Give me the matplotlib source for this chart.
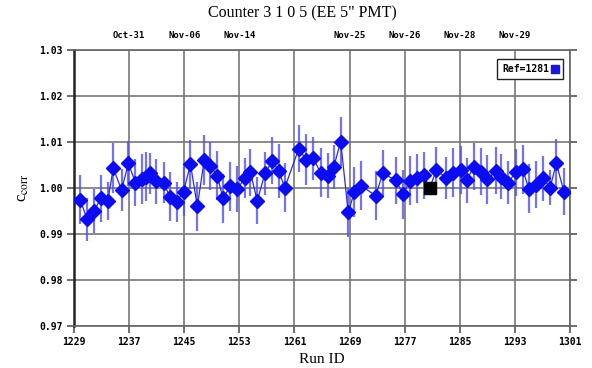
import numpy as np
import matplotlib
matplotlib.use('Agg')
import matplotlib.pyplot as plt
from matplotlib.lines import Line2D

plt.rcParams['mathtext.fontset'] = 'stix'

# run numbers (x) and corrected values
run_id = [1229.9, 1230.9, 1231.9, 1232.9, 1233.9, 1234.7, 1235.9, 1236.9, 1237.9, 1238.8,
          1239.5, 1240.0, 1240.9, 1242.0, 1242.9, 1243.9, 1244.9, 1245.9, 1246.9, 1247.9,
          1248.8, 1249.8, 1250.6, 1251.7, 1252.7, 1253.8, 1254.6, 1255.6, 1256.7, 1257.8,
          1258.7, 1259.6, 1261.6, 1262.7, 1263.7, 1264.8, 1265.8, 1266.7, 1267.7, 1268.8,
          1269.7, 1270.7, 1272.8, 1273.8, 1275.7, 1276.8, 1277.7, 1278.8, 1279.8, 1280.6,
          1281.6, 1283.0, 1284.0, 1285.1, 1286.0, 1287.0, 1288.0, 1289.0, 1290.2, 1291.0,
          1292.0, 1293.1, 1294.1, 1295.0, 1296.0, 1297.1, 1298.1, 1299.0, 1300.1]
c_corr = [0.9975, 0.9932, 0.9950, 0.9978, 0.9972, 1.0043, 0.9996, 1.0054, 1.0012, 1.0019,
          1.0025, 1.0032, 1.0015, 1.0012, 0.9981, 0.9970, 0.9992, 1.0052, 0.9960, 1.0061,
          1.0048, 1.0027, 0.9978, 1.0004, 0.9998, 1.0022, 1.0034, 0.9972, 1.0032, 1.0059,
          1.0037, 1.0001, 1.0085, 1.0062, 1.0065, 1.0033, 1.0027, 1.0046, 1.0101, 0.9947,
          0.9992, 1.0005, 0.9983, 1.0032, 1.0017, 0.9986, 1.0016, 1.0021, 1.0028, 1.0000,
          1.0039, 1.0022, 1.0033, 1.0039, 1.0017, 1.0046, 1.0035, 1.0019, 1.0038, 1.0025,
          1.0012, 1.0034, 1.0041, 0.9999, 1.0007, 1.0021, 1.0001, 1.0054, 0.9992]
err = [5.4, 4.7, 4.7, 5.1, 4.2, 5.4, 4.5, 4.9, 5.1, 5.4,
       5.3, 4.5, 4.9, 4.5, 5.3, 4.3, 5.3, 5.3, 5.4, 5.4,
       5.3, 5.3, 5.3, 5.3, 5.0, 4.3, 5.1, 5.1, 4.7, 5.1,
       5.8, 5.3, 5.1, 5.6, 4.7, 5.3, 4.9, 4.7, 5.4, 5.4,
       5.4, 5.3, 5.3, 5.1, 5.1, 5.4, 5.3, 5.3, 5.1, 0.0,
       5.1, 4.5, 5.3, 5.3, 4.9, 5.1, 5.1, 5.3, 5.1, 4.9,
       4.7, 5.1, 5.3, 5.3, 5.1, 4.9, 3.8, 5.3, 5.1]
ref_run = 1280.6
ref_val = 1.0000

date_runs = [1237, 1245, 1253, 1269, 1277, 1285, 1293]
date_labels = ['Oct-31', 'Nov-06', 'Nov-14', 'Nov-25', 'Nov-26', 'Nov-28', 'Nov-29']

x = np.array(run_id)
y = np.array(c_corr)
e = np.array(err) / 1000.0

fig = plt.figure(figsize=(5.92, 3.68), dpi=100)
ax = fig.add_axes([0.125, 0.114, 0.838, 0.75])

mono = dict(family='DejaVu Sans Mono', weight='bold', size=7)
mono_s = dict(family='DejaVu Sans Mono', weight='bold', size=6.5)

ax.errorbar(x, y, yerr=e, fmt='none', ecolor='#5050f0', elinewidth=1.6, alpha=0.8, zorder=3)
ax.plot(x, y, color='#2a2ae8', lw=0.9, zorder=4)
mask = x != ref_run
ax.plot(x[mask], y[mask], ls='', marker='D', ms=7, color='#0c0cf0', mec='#0c0cf0', zorder=5)
ax.plot([ref_run], [ref_val], ls='', marker='s', ms=8, color='black', zorder=6)

ax.set_xlim(1229, 1301)
ax.set_ylim(0.97, 1.03)
ax.set_xticks(np.arange(1229, 1302, 8))
ax.set_yticks(np.arange(0.97, 1.031, 0.01))
ax.set_yticklabels(['%.2f' % v for v in np.arange(0.97, 1.031, 0.01)], fontdict=mono)
ax.set_xticklabels([str(v) for v in range(1229, 1302, 8)], fontdict=mono)
ax.grid(True, color='#777777', lw=1.2)
ax.set_axisbelow(True)
ax.tick_params(direction='out', length=5, width=1.2, color='#555555',
               top=True, right=True, pad=3)
for s in ax.spines.values():
    s.set_color('#666666')
    s.set_linewidth(1.2)
ax.spines['left'].set_color('#222222')
ax.spines['left'].set_linewidth(1.8)

ax.set_xlabel('Run ID', family='Liberation Serif', fontsize=11, labelpad=4)
ax.set_ylabel(r'c$_{\mathrm{corr}}$', family='Liberation Serif', fontsize=12, labelpad=6)

top = ax.twiny()
top.set_xlim(ax.get_xlim())
top.set_xticks(date_runs)
top.set_xticklabels(date_labels, fontdict=mono_s)
top.tick_params(length=0, pad=7)
for s in top.spines.values():
    s.set_visible(False)

fig.suptitle('Counter 3 1 0 5 (EE 5" PMT)', family='Liberation Serif', fontsize=11.5,
             x=0.51, y=0.985)

h = Line2D([], [], ls='', marker='s', ms=6, color='#1818d8')
leg = ax.legend(handles=[h], labels=['Ref=1281'], loc='upper right', markerfirst=False,
                fancybox=False, edgecolor='#222222', framealpha=1, prop=mono,
                handlelength=0.6, handletextpad=0.3, borderpad=0.5,
                bbox_to_anchor=(0.995, 0.985))
leg.get_frame().set_linewidth(1.0)

fig.savefig('out.png', dpi=100)
